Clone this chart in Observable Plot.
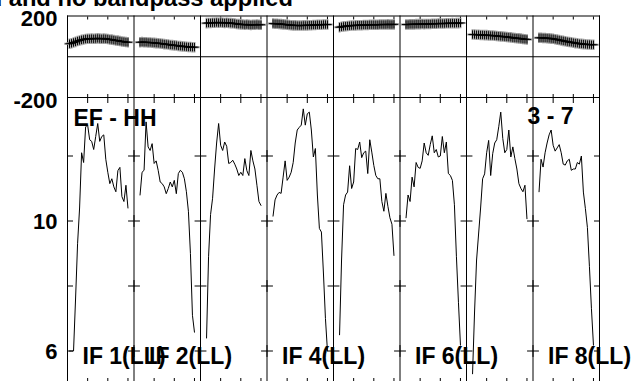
<!DOCTYPE html>
<html><head><meta charset="utf-8">
<script src="https://cdn.jsdelivr.net/npm/d3@7"></script>
<script src="https://cdn.jsdelivr.net/npm/@observablehq/plot@0.6"></script>
<style>
html,body{margin:0;padding:0;background:#fff;overflow:hidden;width:636px;height:381px;}
#wrap{position:relative;width:636px;height:381px;overflow:hidden;}
#wrap svg{position:absolute;left:0;top:0;}
#title{position:absolute;right:343px;top:-12.8px;font:bold 23.7px "Liberation Sans",Arial,Helvetica,sans-serif;line-height:23.7px;white-space:nowrap;color:#000;}
</style></head>
<body><div id="wrap"><div id="title">Calibration applied and no bandpass applied</div></div>
<script>
// ---- data ----
const chan = [1,2,3,4,5,6,7,8,9,10,11,12,13,14,15,16,17,18,19,20,21,22,23,24,25,26,27,28,29,30];
const ifNames = ["IF 1","IF 2","IF 3","IF 4","IF 5","IF 6","IF 7","IF 8"];
const amp1 = [6.0,6.0,6.0,7.6,9.3,10.4,12.1,11.8,12.9,12.95,12.5,12.45,12.2,12.6,13.0,12.45,12.6,12.65,11.9,11.5,11.15,11.3,11.05,10.9,11.55,11.65,10.75,10.6,11.1,10.4];
const amp2 = [null,null,10.8,11.5,11.56,13.05,12.28,12.17,12.38,11.77,11.85,11.56,11.2,11.15,11.05,10.84,11.0,11.2,11.05,11.25,10.84,11.46,11.56,11.5,11.3,10.9,10.3,9.0,7.1,6.58];
const amp3 = [null,null,6.4,8.9,10.2,10.7,11.6,12.4,13.0,12.33,12.17,12.43,12.3,11.77,11.8,11.87,11.75,11.6,11.4,11.5,11.4,11.92,11.55,11.4,12.17,11.85,11.6,11.1,10.6,10.48];
const amp4 = [null,null,10.15,10.65,10.8,10.88,10.85,11.35,11.85,11.25,11.35,11.5,11.8,12.4,12.8,12.88,12.95,13.45,12.95,13.3,13.35,12.8,11.97,12.23,10.8,9.77,9.66,8.4,7.0,6.0];
const amp5 = [null,null,6.5,8.8,10.5,10.8,10.89,11.7,11.0,11.2,12.23,12.2,12.43,11.95,12.1,12.15,11.46,12.5,12.12,11.71,11.4,11.3,11.3,10.6,10.3,10.85,10.45,10.1,9.9,8.94];
const amp6 = [null,null,10.1,10.8,10.6,11.35,11.05,11.8,11.65,11.62,11.85,12.4,12.1,12.02,12.35,12.62,12.1,12.2,11.97,12.0,12.6,12.1,12.43,11.46,11.4,11.25,10.5,8.9,7.5,6.18];
const amp7 = [null,null,5.3,7.2,8.8,9.6,10.4,11.3,11.45,12.1,12.48,11.4,12.07,12.4,12.5,12.9,13.35,12.54,12.1,12.2,12.8,11.97,12.28,11.92,11.6,11.15,11.0,10.9,11.1,10.07];
const amp8 = [null,null,10.9,11.9,11.66,12.1,12.4,12.65,12.8,12.33,12.15,12.25,12.35,12.1,11.75,11.72,11.85,11.9,11.56,11.6,11.6,11.8,11.75,12.0,10.89,10.38,9.8,8.6,7.3,6.18];
const phase1 = [64,66,70,73,77,80,83,85,87,88,88,89,88,89,90,89,88,89,88,87,85,84,82,80,79,77,75,74,72,71];
const phase2 = [null,null,71,72,71,71,70,70,69,68,67,66,65,64,62,61,60,58,57,56,55,53,52,51,50,49,48,48,47,47];
const phase3 = [null,null,165,166,166,167,167,168,167,168,167,166,167,166,165,164,163,161,160,159,158,157,158,157,156,157,157,158,157,157];
const phase4 = [null,null,163,162,162,161,160,159,158,157,156,155,154,154,153,153,153,154,154,154,155,155,156,156,157,157,157,158,158,158];
const phase5 = [null,null,145,147,149,150,151,152,153,153,154,155,155,155,156,156,156,157,157,157,157,157,158,158,158,158,159,158,158,159];
const phase6 = [null,null,158,158,159,159,159,160,160,160,161,160,161,161,161,162,162,162,163,163,163,163,164,164,164,165,164,165,165,166];
const phase7 = [null,null,109,109,108,108,107,107,106,106,105,104,104,103,102,101,100,99,98,97,96,95,93,92,91,90,89,87,86,85];
const phase8 = [null,null,93,93,92,92,91,90,89,88,86,84,82,80,78,76,74,72,71,69,67,66,64,63,62,61,60,60,59,59];
const chanTicks = [10,20,30];
const ampTicks = [6,8,10,12];
const ampLabels = [6,10];
const phaseLabels = [-200,200];
const ifLabels = ["IF 1(LL)","IF 2(LL)","IF 4(LL)","IF 6(LL)","IF 8(LL)"];
const ifLabelPanels = [0,1,3,5,7];
const baselineLabel = "EF - HH";
const timeLabel = "3 - 7";

// ---- build ----
const nPanel = 8, span = 33;
const amps = [amp1,amp2,amp3,amp4,amp5,amp6,amp7,amp8];
const phases = [phase1,phase2,phase3,phase4,phase5,phase6,phase7,phase8];
const rows = [];
amps.forEach((a,k)=>chan.forEach((c,i)=>rows.push({panel:ifNames[k], x:k*span+c, amp:a[i], ph:phases[k][i]})));
const phRows = rows.filter(d=>d.ph!=null);
const bounds = d3.range(nPanel+1).map(k=>k*span);
const inner = bounds.slice(1,-1);
const xt = d3.range(nPanel).flatMap(k=>chanTicks.map(c=>k*span+c));
const crossings = inner.flatMap(b=>ampTicks.map(v=>({x:b,y:v})));
const labRows = ifLabels.map((t,i)=>({t, x:ifLabelPanels[i]*span}));
const font = '"Liberation Sans", Arial, Helvetica, sans-serif';
const common = {width:636, marginLeft:67, marginRight:37, x:{domain:[0,nPanel*span]}};
const plain = d => String(d);

const ampPlot = Plot.plot({
  ...common, height:420, marginTop:97, marginBottom:37,
  y:{domain:[5,13.8]},
  style:{background:"transparent", fontFamily:font, fontWeight:"bold", color:"black", overflow:"visible"},
  marks:[
    Plot.frame({stroke:"black"}),
    Plot.ruleX(bounds,{stroke:"black"}),
    Plot.axisX({anchor:"top", ticks:xt, tickSize:-5, tickFormat:()=>"", label:null}),
    Plot.axisX({anchor:"bottom", ticks:xt, tickSize:-5, tickFormat:()=>"", label:null}),
    Plot.axisY({anchor:"left", ticks:ampTicks, tickSize:-6, tickFormat:()=>"", label:null}),
    Plot.axisY({anchor:"right", ticks:ampTicks, tickSize:-6, tickFormat:()=>"", label:null}),
    Plot.axisY({anchor:"left", ticks:ampLabels, tickSize:0, tickPadding:10, tickFormat:plain, fontSize:22, fontWeight:"bold", dy:1, label:null}),
    Plot.dot(crossings,{x:"x", y:"y", symbol:"plus", r:3.9, stroke:"black", strokeWidth:1}),
    Plot.lineY(rows,{x:"x", y:"amp", z:"panel", stroke:"black", strokeWidth:1, clip:true}),
    Plot.text([baselineLabel],{frameAnchor:"top-left", textAnchor:"start", lineAnchor:"bottom", dx:6, dy:28, fontSize:23, fontWeight:"bold", fill:"black"}),
    Plot.text([timeLabel],{frameAnchor:"top-right", textAnchor:"end", lineAnchor:"bottom", dx:-26, dy:26.3, fontSize:23, fontWeight:"bold", fill:"black"}),
    Plot.text(labRows,{x:"x", text:"t", frameAnchor:"bottom", textAnchor:"start", lineAnchor:"bottom", dx:15, dy:-19.7, fontSize:23, fontWeight:"bold", fill:"black"})
  ]
});

const phasePlot = Plot.plot({
  ...common, height:125, marginTop:15.5, marginBottom:28,
  y:{domain:[-200,200]},
  style:{background:"transparent", fontFamily:font, fontWeight:"bold", color:"black", overflow:"visible"},
  marks:[
    Plot.frame({stroke:"black"}),
    Plot.ruleX(bounds,{stroke:"black"}),
    Plot.ruleY([0],{stroke:"black"}),
    Plot.axisX({anchor:"top", ticks:xt, tickSize:-3, tickFormat:()=>"", label:null}),
    Plot.axisX({anchor:"bottom", ticks:xt, tickSize:-3, tickFormat:()=>"", label:null}),
    Plot.axisY({anchor:"left", ticks:phaseLabels, tickSize:0, tickPadding:10, tickFormat:plain, fontSize:22, fontWeight:"bold", dy:3, label:null}),
    Plot.dot(phRows,{x:"x", y:"ph", symbol:"plus", r:3.5, stroke:"#999", strokeWidth:2}),
    Plot.lineY(phRows,{x:"x", y:"ph", z:"panel", stroke:"black", strokeWidth:1.5}),
    Plot.dot(phRows,{x:"x", y:"ph", symbol:"plus", r:2.8, stroke:"black", strokeWidth:1})
  ]
});
const wrap = document.getElementById("wrap");
wrap.insertBefore(phasePlot, wrap.firstChild);
wrap.insertBefore(ampPlot, wrap.firstChild);
</script></body></html>
